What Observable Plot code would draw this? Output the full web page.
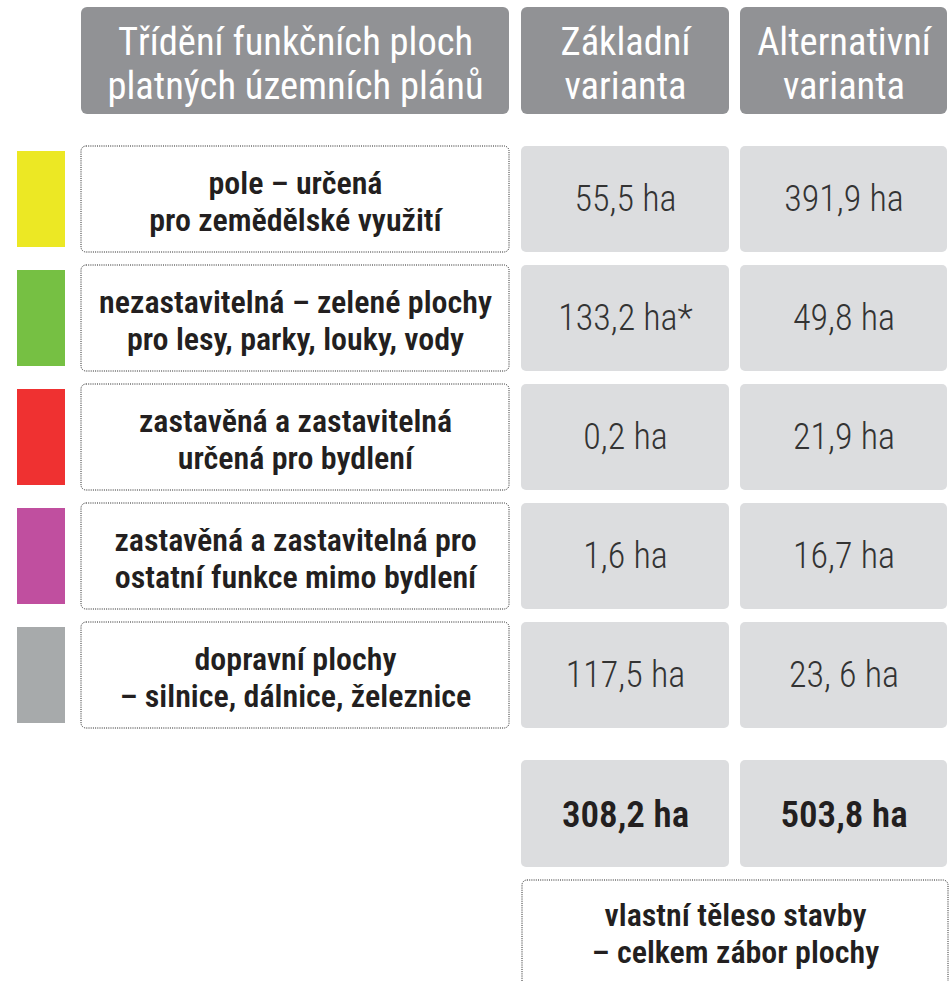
<!DOCTYPE html>
<html>
<head>
<meta charset="utf-8">
<script src="https://cdn.jsdelivr.net/npm/d3@7"></script>
<script src="https://cdn.jsdelivr.net/npm/@observablehq/plot@0.6"></script>
<style>
  html, body { margin: 0; padding: 0; background: #fff; }
  #chart svg { display: block; }
</style>
</head>
<body>
<div id="chart"></div>
<div id="probe" style="position:absolute;left:-9999px;top:0;white-space:nowrap;font-size:40px"></div>
<script>
// ---- data ----
const headerLabels = ["Třídění funkčních ploch\nplatných územních plánů", "Základní\nvarianta", "Alternativní\nvarianta"];
const categories = [
  "pole – určená\npro zemědělské využití",
  "nezastavitelná – zelené plochy\npro lesy, parky, louky, vody",
  "zastavěná a zastavitelná\nurčená pro bydlení",
  "zastavěná a zastavitelná pro\nostatní funkce mimo bydlení",
  "dopravní plochy\n– silnice, dálnice, železnice"
];
const categoryColors = ["#ece824", "#76c043", "#ef3131", "#c04f9f", "#a7aaab"];
const baseValues = ["55,5 ha", "133,2 ha*", "0,2 ha", "1,6 ha", "117,5 ha"];
const altValues = ["391,9 ha", "49,8 ha", "21,9 ha", "16,7 ha", "23, 6 ha"];
const totals = ["308,2 ha", "503,8 ha"];
const totalNote = "vlastní těleso stavby\n– celkem zábor plochy";

// ---- pick a font that supports condensed width ----
const probe = document.getElementById("probe");
function widthOf(fam, stretch) {
  probe.style.fontFamily = `'${fam}', monospace`;
  probe.style.fontStretch = stretch;
  probe.textContent = "zastavěná a zastavitelná pro ostatní";
  return probe.getBoundingClientRect().width;
}
const candidates = ["Roboto", "Open Sans", "Inter", "Noto Sans", "DejaVu Sans", "Liberation Sans"];
let FAMILY = "Roboto", condensed = false;
for (const f of candidates) {
  const w100 = widthOf(f, "100%"), w75 = widthOf(f, "75%");
  if (w75 < 0.92 * w100) { FAMILY = f; condensed = true; break; }
}
probe.remove();
const FONT = `'${FAMILY}', sans-serif`;

// ---- layout (computed in code, not data) ----
const W = 951, H = 981;
const cols = {swatch: [17, 65], label: [81, 509], base: [521, 729], alt: [740, 947]};
const valueCols = [cols.base, cols.alt];
const header = [7, 114];
const rowTop = 146, rowH = 106, rowStep = 119;
const rowY = i => [rowTop + i * rowStep, rowTop + i * rowStep + rowH];
const totalY = [760, 867];
const noteY = [880, 1000];

const headerRows = headerLabels.map((t, i) => {
  const c = i === 0 ? cols.label : valueCols[i - 1];
  return {text: t, x1: c[0], x2: c[1], y1: header[0], y2: header[1]};
});
const rows = categories.map((c, i) => ({
  label: c, color: categoryColors[i], y1: rowY(i)[0], y2: rowY(i)[1]
}));
const valueCells = rows.flatMap((r, i) => [
  {text: baseValues[i], x1: cols.base[0], x2: cols.base[1], y1: r.y1, y2: r.y2},
  {text: altValues[i], x1: cols.alt[0], x2: cols.alt[1], y1: r.y1, y2: r.y2}
]);
const totalCells = totals.map((t, i) => ({text: t, x1: valueCols[i][0], x2: valueCols[i][1], y1: totalY[0], y2: totalY[1]}));
const noteCell = [{text: totalNote, x1: 522, x2: 948, y1: noteY[0], y2: noteY[1]}];

const mid = (a, b) => (a + b) / 2;

const chart = Plot.plot({
  width: W, height: H,
  margin: 0,
  x: {domain: [0, W], range: [0, W], axis: null},
  y: {domain: [0, H], range: [0, H], axis: null},
  style: {fontFamily: FONT, background: "#fff"},
  marks: [
    Plot.rect(headerRows, {x1: "x1", x2: "x2", y1: "y1", y2: "y2", fill: "#919295", rx: 6}),
    Plot.text(headerRows, {x: d => mid(d.x1, d.x2), y: d => mid(d.y1, d.y2) + 2, text: "text",
      fill: "#fff", fontSize: 38.5, lineHeight: 1.14, fontFamily: FONT, className: "cond"}),
    Plot.rect(rows, {x1: cols.swatch[0], x2: cols.swatch[1], y1: d => d.y1 + 5, y2: d => d.y2 - 5, fill: "color"}),
    Plot.rect(rows, {x1: cols.label[0], x2: cols.label[1], y1: "y1", y2: "y2", fill: "none",
      stroke: "#222", strokeWidth: 1, strokeDasharray: "1,1.2", rx: 5}),
    Plot.text(rows, {x: mid(cols.label[0], cols.label[1]), y: d => mid(d.y1, d.y2) + 1, text: "label",
      fill: "#231f20", fontSize: 32, fontWeight: 600, lineHeight: 1.156, fontFamily: FONT, className: "cond"}),
    Plot.rect(valueCells, {x1: "x1", x2: "x2", y1: "y1", y2: "y2", fill: "#dcdddf", rx: 5}),
    Plot.text(valueCells, {x: d => mid(d.x1, d.x2), y: d => mid(d.y1, d.y2), text: "text",
      fill: "#333", fontSize: 36, fontWeight: 300, fontFamily: FONT, className: "cond"}),
    Plot.rect(totalCells, {x1: "x1", x2: "x2", y1: "y1", y2: "y2", fill: "#dcdddf", rx: 5}),
    Plot.text(totalCells, {x: d => mid(d.x1, d.x2), y: d => mid(d.y1, d.y2) + 1, text: "text",
      fill: "#231f20", fontSize: 37, fontWeight: 600, fontFamily: FONT, className: "cond"}),
    Plot.rect(noteCell, {x1: "x1", x2: "x2", y1: "y1", y2: "y2", fill: "none",
      stroke: "#222", strokeWidth: 1, strokeDasharray: "1,1.2", rx: 5}),
    Plot.text(noteCell, {x: d => mid(d.x1, d.x2), y: 932, text: "text",
      fill: "#231f20", fontSize: 32, fontWeight: 600, lineHeight: 1.15, fontFamily: FONT, className: "cond"})
  ]
});
const st = document.createElement("style");
st.textContent = condensed ? `.cond text, text.cond, .cond { font-stretch: 75%; }` : ``;
document.head.appendChild(st);
document.getElementById("chart").appendChild(chart);
</script>
</body>
</html>
